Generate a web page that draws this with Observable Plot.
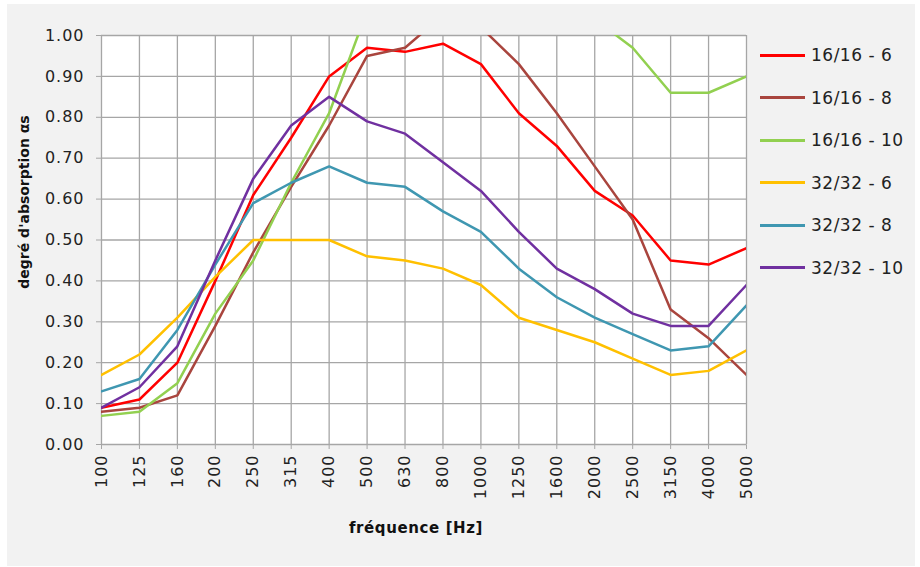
<!DOCTYPE html>
<html>
<head>
<meta charset="utf-8">
<script src="https://cdn.jsdelivr.net/npm/d3@7"></script>
<script src="https://cdn.jsdelivr.net/npm/@observablehq/plot@0.6"></script>
<style>
  html, body { margin: 0; padding: 0; background: #ffffff; }
  #wrap { position: relative; width: 920px; height: 567px; overflow: hidden; }
  #bg { position: absolute; left: 7px; top: 4px; width: 908px; height: 562px; background: #f2f2f2; }
  #chart { position: absolute; left: 0; top: 0; }
  #chart svg text { letter-spacing: 1px; }
  #chart svg g[aria-label$="tick"] { stroke: #a6a6a6 !important; }
  #chart svg g[aria-label^="x-axis"] line, #chart svg g[aria-label^="y-axis"] line { stroke: #a6a6a6; }
  .ylab { position: absolute; left: 24px; top: 202px; transform: translate(-50%, -50%) rotate(-90deg);
          font: bold 14px "DejaVu Sans", sans-serif; color: #111; white-space: nowrap; }
  .xlab { position: absolute; left: 416px; top: 528px; transform: translate(-50%, -50%);
          font: bold 15px "DejaVu Sans", sans-serif; color: #111; white-space: nowrap; letter-spacing: 0.6px; }
  #legend { position: absolute; left: 760px; top: 34px; }
  .item { display: flex; align-items: center; height: 42.5px; font: 17px "DejaVu Sans", sans-serif; color: #222; letter-spacing: 0.5px; }
  .swatch { width: 45px; height: 3px; margin-right: 6px; }
</style>
</head>
<body>
<div id="wrap">
  <div id="bg"></div>
  <div id="chart"></div>
  <div class="ylab">degré d'absorption αs</div>
  <div class="xlab">fréquence [Hz]</div>
  <div id="legend"></div>
</div>
<script>
const freqs = ["100","125","160","200","250","315","400","500","630","800","1000","1250","1600","2000","2500","3150","4000","5000"];
const seriesNames = ["16/16 - 6","16/16 - 8","16/16 - 10","32/32 - 6","32/32 - 8","32/32 - 10"];
const colors = ["#ff0000","#a9453e","#92d050","#ffc000","#3f97b1","#7030a0"];

const s16_6  = [0.09,0.11,0.20,0.40,0.61,0.75,0.90,0.97,0.96,0.98,0.93,0.81,0.73,0.62,0.56,0.45,0.44,0.48];
const s16_8  = [0.08,0.09,0.12,0.29,0.47,0.63,0.78,0.95,0.97,1.05,1.02,0.93,0.81,0.68,0.55,0.33,0.26,0.17];
const s16_10 = [0.07,0.08,0.15,0.32,0.45,0.64,0.81,1.06,1.10,1.12,1.11,1.08,1.06,1.04,0.97,0.86,0.86,0.90];
const s32_6  = [0.17,0.22,0.31,0.41,0.50,0.50,0.50,0.46,0.45,0.43,0.39,0.31,0.28,0.25,0.21,0.17,0.18,0.23];
const s32_8  = [0.13,0.16,0.28,0.44,0.59,0.64,0.68,0.64,0.63,0.57,0.52,0.43,0.36,0.31,0.27,0.23,0.24,0.34];
const s32_10 = [0.09,0.14,0.24,0.45,0.65,0.78,0.85,0.79,0.76,0.69,0.62,0.52,0.43,0.38,0.32,0.29,0.29,0.39];
const yTicks = [0,0.1,0.2,0.3,0.4,0.5,0.6,0.7,0.8,0.9,1.0];

const allValues = [s16_6, s16_8, s16_10, s32_6, s32_8, s32_10];
const idx = freqs.map((f, i) => i);
const data = seriesNames.flatMap((name, i) =>
  allValues[i].map((v, j) => ({i: j, freq: freqs[j], value: v, series: name})));

const chart = Plot.plot({
  width: 920,
  height: 567,
  marginLeft: 101,
  marginRight: 174,
  marginTop: 35,
  marginBottom: 123,
  style: {background: "transparent", fontFamily: "DejaVu Sans, sans-serif", fontSize: "16px", color: "#222", overflow: "visible"},
  x: {type: "linear", domain: [0, freqs.length - 1], ticks: freqs.length - 1, tickFormat: i => freqs[i], label: null, tickRotate: -90, tickSize: 5, tickPadding: 5},
  y: {domain: [0, 1], ticks: 10, tickFormat: d3.format(".2f"), label: null, tickSize: 5, tickPadding: 12},
  color: {domain: seriesNames, range: colors},
  marks: [
    Plot.frame({fill: "white", stroke: null}),
    Plot.ruleY(yTicks, {y: d => d, stroke: "#a6a6a6", strokeWidth: 1.3}),
    Plot.ruleX(idx, {x: d => d, stroke: "#a6a6a6", strokeWidth: 1.3}),
    Plot.lineY(data, {x: "i", y: "value", z: "series", stroke: "series", strokeWidth: 2.5, clip: true})
  ]
});
document.getElementById("chart").appendChild(chart);

const legend = document.getElementById("legend");
seriesNames.forEach((name, i) => {
  const item = document.createElement("div");
  item.className = "item";
  const sw = document.createElement("div");
  sw.className = "swatch";
  sw.style.background = colors[i];
  const t = document.createElement("span");
  t.textContent = name;
  item.appendChild(sw);
  item.appendChild(t);
  legend.appendChild(item);
});
</script>
</body>
</html>
